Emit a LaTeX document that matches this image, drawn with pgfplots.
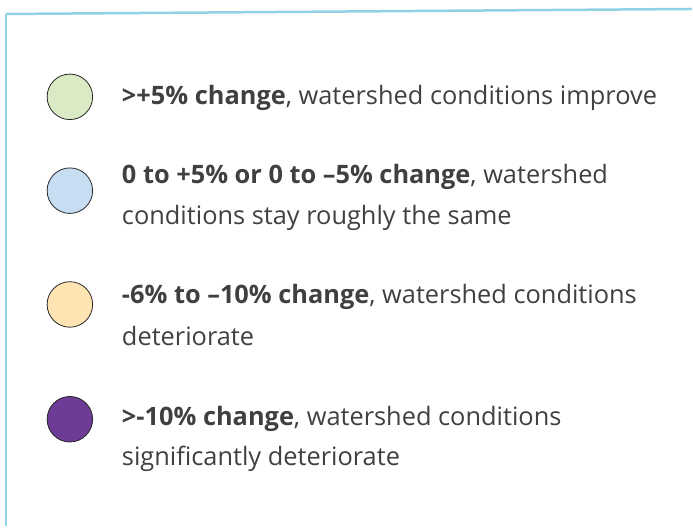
\documentclass[border=0pt]{standalone}
\usepackage{pgfplots}
\pgfplotsset{compat=1.18}
\usepackage{fontspec}
\setmainfont{Open Sans}
\definecolor{cgreen}{HTML}{DAEAC4}
\definecolor{cblue}{HTML}{C6DDF2}
\definecolor{cyellow}{HTML}{FDE4B2}
\definecolor{cpurple}{HTML}{6E3B96}
\definecolor{cborder}{HTML}{8FD1E6}
\definecolor{txt}{HTML}{404042}
\begin{document}
\begin{tikzpicture}
\begin{axis}[
  width=693bp, height=527bp, scale only axis,
  xmin=0, xmax=693, ymin=0, ymax=527, y dir=reverse,
  hide axis, clip=false,
]
\path (axis cs:0,0) rectangle (axis cs:693,527);
\draw[cborder, line width=2.5bp] (axis cs:6,14) -- (axis cs:693,9);
\draw[cborder, line width=2.5bp] (axis cs:6,14) -- (axis cs:6,527);
\addplot[only marks, mark=*, mark size=22.8bp, mark options={fill=cgreen, draw=black!85, line width=0.8pt}] coordinates {(70,97)};
\addplot[only marks, mark=*, mark size=22.8bp, mark options={fill=cblue, draw=black!85, line width=0.8pt}] coordinates {(70,191)};
\addplot[only marks, mark=*, mark size=22.8bp, mark options={fill=cyellow, draw=black!85, line width=0.8pt}] coordinates {(70,305)};
\addplot[only marks, mark=*, mark size=22.8bp, mark options={fill=cpurple, draw=black!85, line width=0.8pt}] coordinates {(70,420)};
\begin{scope}[every node/.style={anchor=base west, inner sep=0pt, text=txt, font=\fontsize{25.5}{32}\selectfont}]
\node at (axis cs:122,105) {\textbf{>+5\% change}, watershed conditions improve};
\node at (axis cs:122,184) {\textbf{0 to +5\% or 0 to –5\% change}, watershed};
\node at (axis cs:122,225) {conditions stay roughly the same};
\node at (axis cs:122,304) {\textbf{-6\% to –10\% change}, watershed conditions};
\node at (axis cs:122,346) {deteriorate};
\node at (axis cs:122,426) {\textbf{>-10\% change}, watershed conditions};
\node at (axis cs:122,466) {significantly deteriorate};
\end{scope}
\end{axis}
\end{tikzpicture}
\end{document}
